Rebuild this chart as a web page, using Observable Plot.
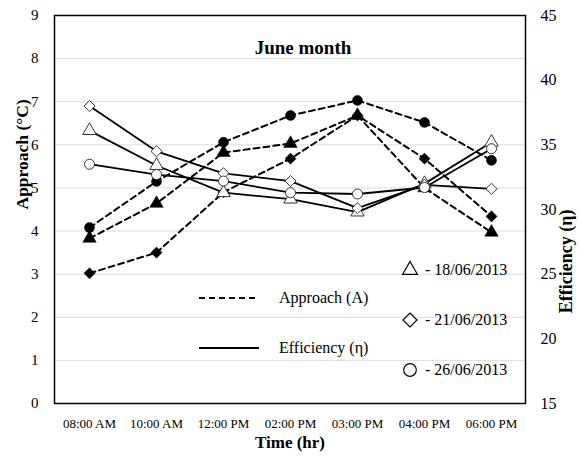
<!DOCTYPE html>
<html>
<head>
<meta charset="utf-8">
<script src="https://cdn.jsdelivr.net/npm/d3@7"></script>
<script src="https://cdn.jsdelivr.net/npm/@observablehq/plot@0.6"></script>
<style>
  html, body { margin: 0; padding: 0; background: white; }
  #chart { width: 581px; height: 462px; }
</style>
</head>
<body>
<div id="chart"></div>
<script>
// ---- data ----
const times = ["08:00 AM", "10:00 AM", "12:00 PM", "02:00 PM", "03:00 PM", "04:00 PM", "06:00 PM"];
const dates = ["18/06/2013", "21/06/2013", "26/06/2013"];
const approach18 = [3.83, 4.64, 5.82, 6.03, 6.68, 5.0, 3.97];
const approach21 = [3.02, 3.5, 4.9, 5.68, 6.68, 5.68, 4.34];
const approach26 = [4.08, 5.15, 6.06, 6.68, 7.03, 6.52, 5.64];
const efficiency18 = [36.1, 33.4, 31.3, 30.8, 29.8, 32.0, 35.2];
const efficiency21 = [38.0, 34.5, 32.8, 32.2, 30.1, 31.9, 31.6];
const efficiency26 = [33.5, 32.7, 32.2, 31.3, 31.2, 31.7, 34.7];
const leftTicks = [0, 1, 2, 3, 4, 5, 6, 7, 8, 9];
const rightTicks = [15, 20, 25, 30, 35, 40, 45];
const symbols = ["triangle", "diamond2", "circle"];

// right axis (15..45) mapped onto left axis (0..9)
const toLeft = v => (v - 15) / 30 * 9;
const fromLeft = v => v / 9 * 30 + 15;

const approachData = [];
[approach18, approach21, approach26].forEach((arr, i) =>
  arr.forEach((v, j) => approachData.push({time: times[j], value: v, date: dates[i]})));
const effData = [];
[efficiency18, efficiency21, efficiency26].forEach((arr, i) =>
  arr.forEach((v, j) => effData.push({time: times[j], value: toLeft(v), eff: v, date: dates[i]})));

const W = 581, H = 462;
const plot = Plot.plot({
  width: W, height: H,
  marginLeft: 54, marginRight: 56, marginTop: 15, marginBottom: 59,
  style: {fontFamily: "'Liberation Serif', 'Times New Roman', serif", fontSize: "16px", background: "white", color: "black"},
  x: {type: "point", domain: times, padding: 0.5, axis: null},
  y: {domain: [0, 9], axis: null},
  symbol: {domain: dates, range: symbols},
  marks: [
    Plot.gridY(leftTicks.filter(d => d > 0 && d < 9), {stroke: "#dcdcdc", strokeOpacity: 1, strokeWidth: 1}),
    Plot.axisY(leftTicks, {anchor: "left", tickSize: 0, tickPadding: 16, fontSize: 15, label: null}),
    Plot.axisY(rightTicks.map(toLeft), {anchor: "right", tickSize: 0, tickPadding: 15, fontSize: 16, label: null,
      tickFormat: v => String(Math.round(fromLeft(v)))}),
    Plot.axisX({tickSize: 0, tickPadding: 15, fontSize: 13, label: null}),
    Plot.text(["Approach (°C)"], {frameAnchor: "left", dx: -32, rotate: -90, fontWeight: "bold", fontSize: 17.5}),
    Plot.text(["Efficiency (η)"], {frameAnchor: "right", dx: 41, rotate: -90, fontWeight: "bold", fontSize: 18}),
    Plot.text(["Time (hr)"], {frameAnchor: "bottom", dy: 44, fontWeight: "bold", fontSize: 17}),
    Plot.text(["June month"], {frameAnchor: "top", dx: 13, dy: 25, fontWeight: "bold", fontSize: 19}),
    Plot.line(approachData, {x: "time", y: "value", z: "date", stroke: "black", strokeWidth: 2, strokeDasharray: "6,4"}),
    Plot.dot(approachData, {x: "time", y: "value", symbol: "date", fill: "black", stroke: "black", strokeWidth: 0.5, r: 5}),
    Plot.line(effData, {x: "time", y: "value", z: "date", stroke: "black", strokeWidth: 1.8}),
    Plot.dot(effData, {x: "time", y: "value", symbol: "date", fill: "white", stroke: "#333", strokeWidth: 1, r: 5}),
    Plot.frame({stroke: "black", strokeWidth: 1.5})
  ]
});
document.getElementById("chart").appendChild(plot);

// ---- legend (drawn into the same svg) ----
const svg = d3.select(plot);
const lg = svg.append("g")
  .attr("font-family", "'Liberation Serif', 'Times New Roman', serif")
  .attr("font-size", 16).attr("fill", "black").attr("text-anchor", "start");
const lineItems = [
  {label: "Approach (A)", dash: "6,4", y: 298},
  {label: "Efficiency (η)", dash: null, y: 348}
];
lineItems.forEach(it => {
  lg.append("line").attr("x1", 199).attr("x2", 259).attr("y1", it.y).attr("y2", it.y)
    .attr("stroke", "black").attr("stroke-width", 2).attr("stroke-dasharray", it.dash);
  lg.append("text").attr("x", 279).attr("y", it.y).attr("dy", "0.32em").text(it.label);
});
const symMap = {triangle: d3.symbolTriangle, diamond2: d3.symbolDiamond2, circle: d3.symbolCircle};
const symSizes = [95, 125, 125];
dates.forEach((d, i) => {
  const y = 270 + i * 50;
  lg.append("path").attr("transform", `translate(410,${y})`)
    .attr("d", d3.symbol(symMap[symbols[i]], symSizes[i])())
    .attr("fill", "white").attr("stroke", "black").attr("stroke-width", 1.2);
  lg.append("text").attr("x", 425).attr("y", y).attr("dy", "0.32em").text("- " + d);
});
</script>
</body>
</html>
